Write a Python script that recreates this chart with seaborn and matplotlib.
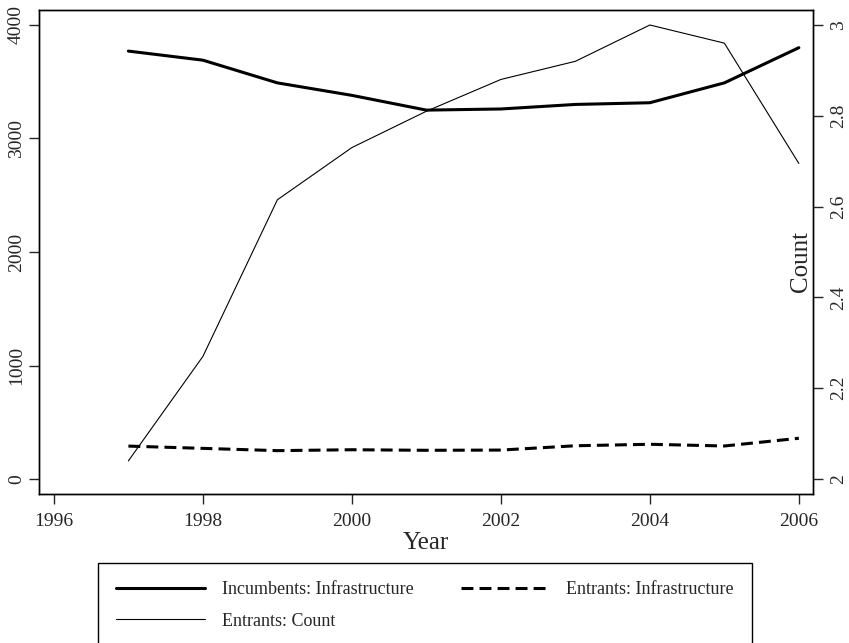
import pandas as pd
import matplotlib
matplotlib.use('Agg')
import matplotlib.pyplot as plt
import seaborn as sns

years = [1997, 1998, 1999, 2000, 2001, 2002, 2003, 2004, 2005, 2006]
incumbents_infra = [3770, 3690, 3490, 3380, 3250, 3260, 3300, 3315, 3490, 3800]
entrants_infra = [290, 270, 250, 258, 253, 255, 293, 306, 291, 359]
entrants_count = [2.04, 2.27, 2.615, 2.73, 2.81, 2.88, 2.92, 3.0, 2.96, 2.695]

x_ticks = [1996, 1998, 2000, 2002, 2004, 2006]
left_ticks = [0, 1000, 2000, 3000, 4000]
right_ticks = [2, 2.2, 2.4, 2.6, 2.8, 3]
right_labels = ['2', '2.2', '2.4', '2.6', '2.8', '3']

df = pd.DataFrame({'Year': years,
                   'Incumbents': incumbents_infra,
                   'Entrants': entrants_infra,
                   'Count': entrants_count})

sns.set_style('ticks')
plt.rcParams['font.family'] = ['Liberation Serif', 'DejaVu Serif']
plt.rcParams['axes.linewidth'] = 1.0

fig = plt.figure(figsize=(8.49, 6.43), dpi=100)
ax = fig.add_axes([39 / 849, 1 - 494 / 643, 774 / 849, 484 / 643])
ax2 = ax.twinx()

l_inc = sns.lineplot(data=df, x='Year', y='Incumbents', ax=ax, color='black',
                     lw=2.2, legend=False).get_lines()[-1]
l_ent = sns.lineplot(data=df, x='Year', y='Entrants', ax=ax, color='black',
                     lw=2.2, ls=(0, (3.9, 2.0)), legend=False).get_lines()[-1]
l_cnt = sns.lineplot(data=df, x='Year', y='Count', ax=ax2, color='black',
                     lw=0.8, legend=False).get_lines()[-1]

# frame goes a bit beyond the data, R style
ax.set_xlim(1995.80, 2006.19)
ax.set_ylim(-132, 4132)
ax2.set_ylim(1.967, 3.033)

ax.set_xticks(x_ticks)
ax.set_yticks(left_ticks)
ax2.set_yticks(right_ticks)
ax2.set_yticklabels(right_labels)

ax.tick_params(axis='x', labelsize=14, length=7, width=1.0, pad=7)
ax.tick_params(axis='y', labelsize=14, length=7, width=1.0, pad=3,
               labelrotation=90)
ax2.tick_params(axis='y', labelsize=14, length=7, width=1.0, pad=5,
                labelrotation=90)
for lab in ax.get_yticklabels() + ax2.get_yticklabels():
    lab.set_va('center')

for a in (ax, ax2):
    for s in a.spines.values():
        s.set_visible(True)
        s.set_linewidth(1.0)
        s.set_color('black')

ax.set_xlabel('Year', fontsize=18, labelpad=1)
ax.set_ylabel('')
ax2.set_ylabel('Count', fontsize=18, rotation=90, va='center', ha='center')
ax2.yaxis.set_label_coords(0.984, 0.48)

# column-major filling -> row 1: incumbents | entrants, row 2: count
handles = [l_inc, l_cnt, l_ent]
labels = ['Incumbents: Infrastructure', 'Entrants: Count',
          'Entrants: Infrastructure']
fig.legend(handles, labels, loc='upper left', ncol=2, mode='expand',
           bbox_to_anchor=(98 / 849, 1 - 563 / 643, 654 / 849, 0.0),
           fontsize=13, frameon=True, fancybox=False, edgecolor='black',
           framealpha=1, borderpad=1.0, labelspacing=0.8,
           handlelength=4.9, handletextpad=0.95, borderaxespad=0)

fig.savefig('out.png', dpi=100)
